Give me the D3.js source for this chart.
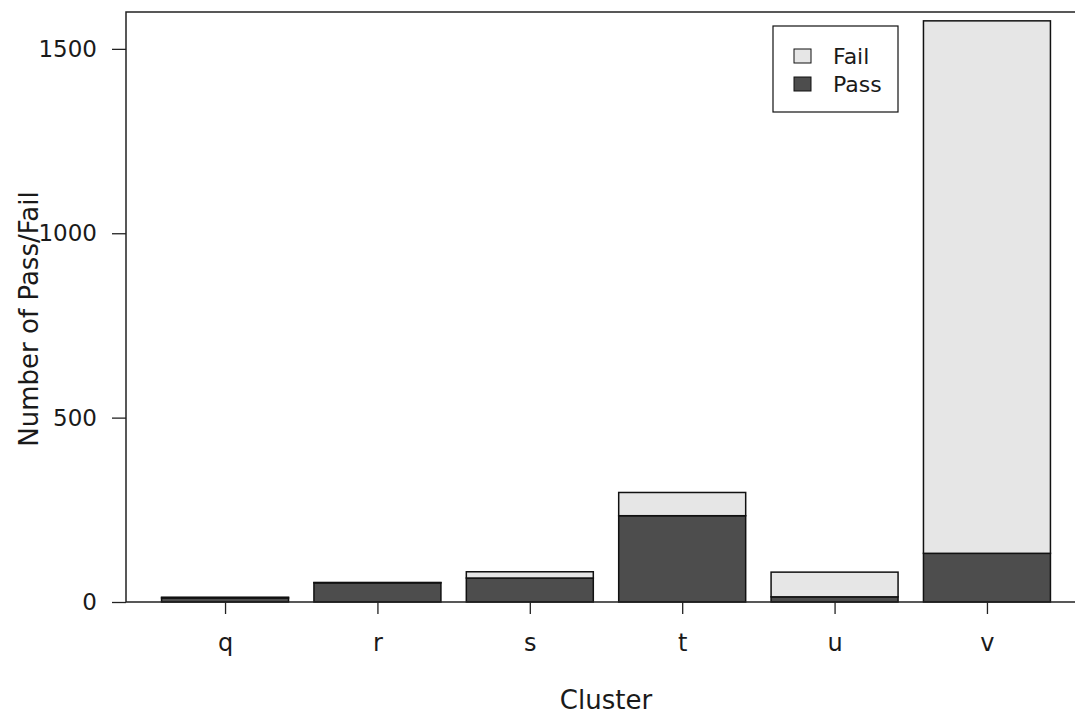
<!DOCTYPE html>
<html>
<head>
<meta charset="utf-8">
<script src="https://cdn.jsdelivr.net/npm/d3@7"></script>
<style>
  body { margin: 0; background: #fff; }
  svg text { font-family: "DejaVu Sans", "Noto Sans", sans-serif; fill: #1a1a1a; }
</style>
</head>
<body>
<svg id="chart" width="1075" height="715" viewBox="0 0 1075 715"></svg>
<script>
// values
const clusters = ["q", "r", "s", "t", "u", "v"];
const passCounts = [11, 52, 65, 234, 14, 132];
const failCounts = [2, 1, 17, 63, 67, 1444];
const yTicks = [0, 500, 1000, 1500];
const seriesNames = ["Fail", "Pass"];

const svg = d3.select("#chart");
const colors = { Pass: "#4d4d4d", Fail: "#e6e6e6" };

const plotLeft = 126, plotRight = 1086, plotTop = 12, plotBottom = 602;

// R barplot style: bars of width 1, space 0.2, 4% extension of the x range
const x = d3.scaleLinear().domain([-0.08, 7.48]).range([plotLeft, plotRight]);
const barLeft = i => x(0.2 + i * 1.2);
const barMid = i => x(0.7 + i * 1.2);

const y = d3.scaleLinear().domain([0, 1600]).range([plotBottom, plotTop]);

const rows = clusters.map((c, i) => ({ cluster: c, Pass: passCounts[i], Fail: failCounts[i], i: i }));
const stack = d3.stack().keys(["Pass", "Fail"])(rows);

const bars = svg.append("g");
stack.forEach(layer => {
    bars.selectAll(null)
        .data(layer)
        .enter()
        .append("rect")
        .attr("x", d => barLeft(d.data.i))
        .attr("width", x(1) - x(0))
        .attr("y", d => y(d[1]))
        .attr("height", d => y(d[0]) - y(d[1]))
        .attr("fill", colors[layer.key])
        .attr("stroke", "#111")
        .attr("stroke-width", 1.5);
});

// frame lines: left, top, bottom
svg.append("path")
    .attr("d", `M${plotRight},${plotTop}H${plotLeft}V${plotBottom}H${plotRight}`)
    .attr("fill", "none")
    .attr("stroke", "#222")
    .attr("stroke-width", 1.5);

// y axis
const yAxis = svg.append("g")
    .attr("transform", `translate(${plotLeft},0)`)
    .call(d3.axisLeft(y).tickValues(yTicks).tickFormat(d3.format("d")).tickSize(14).tickPadding(15));
yAxis.select(".domain").remove();
yAxis.selectAll("line").attr("stroke", "#222").attr("stroke-width", 1.3);
yAxis.selectAll("text")
    .style("font-size", "23px")
    .attr("fill", "#1a1a1a");

// x axis
const xPoint = d3.scalePoint().domain(clusters).range([barMid(0), barMid(clusters.length - 1)]);
const xAxis = svg.append("g")
    .attr("transform", `translate(0,${plotBottom})`)
    .call(d3.axisBottom(xPoint).tickSize(12).tickPadding(20));
xAxis.select(".domain").remove();
xAxis.selectAll("line").attr("stroke", "#222").attr("stroke-width", 1.3);
xAxis.selectAll("text").style("font-size", "24px").attr("fill", "#1a1a1a");

// axis titles
svg.append("text")
    .attr("x", (plotLeft + plotRight) / 2)
    .attr("y", 709)
    .attr("text-anchor", "middle")
    .style("font-size", "26px")
    .text("Cluster");

svg.append("text")
    .attr("transform", "translate(38,319) rotate(-90)")
    .attr("text-anchor", "middle")
    .style("font-size", "26px")
    .text("Number of Pass/Fail");

// legend
const legend = svg.append("g").attr("transform", "translate(773,26)");
legend.append("rect")
    .attr("width", 125).attr("height", 86)
    .attr("fill", "#fff").attr("stroke", "#111").attr("stroke-width", 1.2);
seriesNames.forEach((name, i) => {
    legend.append("rect")
        .attr("x", 21).attr("y", 23 + i * 28)
        .attr("width", 17).attr("height", 14)
        .attr("fill", colors[name]).attr("stroke", "#111").attr("stroke-width", 1);
    legend.append("text")
        .attr("x", 60).attr("y", 38 + i * 28)
        .style("font-size", "22px")
        .text(name);
});
</script>
</body>
</html>
